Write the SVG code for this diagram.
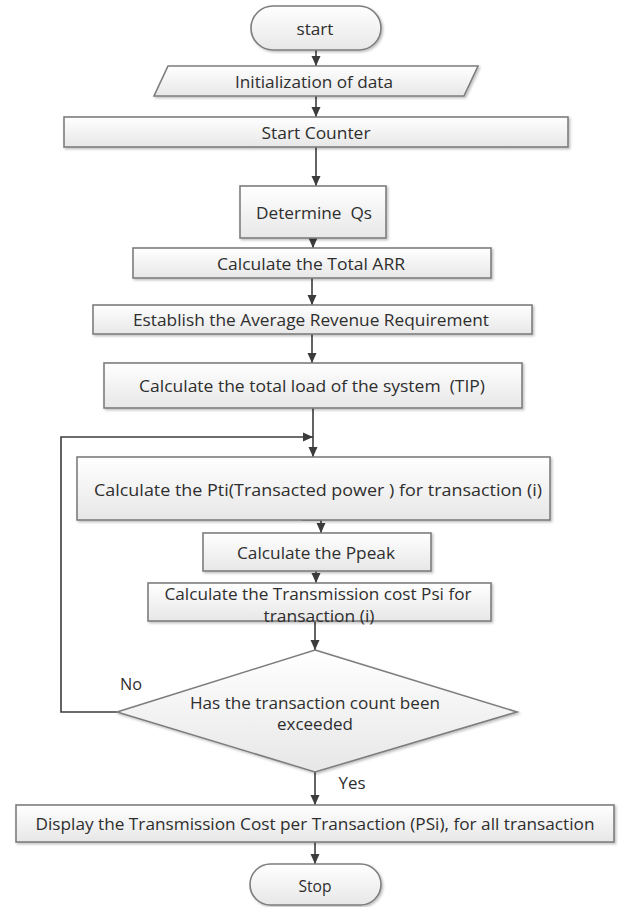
<svg xmlns="http://www.w3.org/2000/svg" width="619" height="907" viewBox="0 0 619 907">
<style>
.box{fill:url(#g);stroke:#7d7d7d;stroke-width:1.6;filter:url(#sh)}
.t{font-family:"Open Sans","Liberation Sans",sans-serif;font-size:16.5px;fill:#2e2e2e;text-anchor:middle;dominant-baseline:central}
.s{font-size:15.5px}
.ca{fill:none;stroke:#3c3c3c;stroke-width:1.6;marker-end:url(#ah)}
</style>
<defs>
<linearGradient id="g" x1="0" y1="0" x2="0" y2="1">
<stop offset="0" stop-color="#ffffff"/>
<stop offset="1" stop-color="#e7e7e7"/>
</linearGradient>
<filter id="sh" x="-5%" y="-20%" width="110%" height="150%">
<feDropShadow dx="1.5" dy="1.5" stdDeviation="1" flood-color="#000" flood-opacity="0.25"/>
</filter>
<marker id="ah" viewBox="0 0 10 10" refX="10" refY="5" markerWidth="10" markerHeight="10" markerUnits="userSpaceOnUse" orient="auto" overflow="visible">
<path d="M0,0.5 L10,5 L0,9.5 Z" fill="#3c3c3c"/>
</marker>
</defs>
<rect width="619" height="907" fill="#ffffff"/>

<g id="connectors">
<line class="ca" x1="316" y1="50" x2="316" y2="66"/>
<line class="ca" x1="316" y1="96" x2="316" y2="117"/>
<line class="ca" x1="316" y1="147" x2="316" y2="186"/>
<line class="ca" x1="313" y1="238" x2="313" y2="248"/>
<line class="ca" x1="312" y1="278" x2="312" y2="305"/>
<line class="ca" x1="312" y1="334" x2="312" y2="363"/>
<line class="ca" x1="313" y1="408" x2="313" y2="457"/>
<polyline class="ca" points="117,712 61,712 61,437 313,437"/>
<polyline class="ca" points="302,520 321,520 321,533"/>
<line class="ca" x1="316" y1="571" x2="316" y2="583"/>
<line class="ca" x1="315" y1="621" x2="315" y2="650"/>
<line class="ca" x1="315" y1="772" x2="315" y2="805"/>
<line class="ca" x1="315" y1="842" x2="315" y2="864"/>
</g>

<g id="start">
<rect class="box" x="251" y="6" width="130" height="44" rx="22"/>
<text class="t" x="315" y="28" textLength="37" lengthAdjust="spacingAndGlyphs">start</text>
</g>
<g id="init">
<polygon class="box" points="168,66 478,66 464,96 154,96"/>
<text class="t" x="314" y="81" textLength="158" lengthAdjust="spacingAndGlyphs">Initialization of data</text>
</g>
<g id="counter">
<rect class="box" x="64" y="117" width="504" height="30"/>
<text class="t" x="316" y="132" textLength="109" lengthAdjust="spacingAndGlyphs">Start Counter</text>
</g>
<g id="qs">
<rect class="box" x="240" y="186" width="146" height="52"/>
<text class="t" x="314" y="212" textLength="116" lengthAdjust="spacingAndGlyphs" xml:space="preserve">Determine  Qs</text>
</g>
<g id="arr">
<rect class="box" x="133" y="248" width="358" height="30"/>
<text class="t" x="311" y="263" textLength="188" lengthAdjust="spacingAndGlyphs">Calculate the Total ARR</text>
</g>
<g id="avg">
<rect class="box" x="93" y="305" width="439" height="29"/>
<text class="t" x="311" y="319" textLength="356" lengthAdjust="spacingAndGlyphs">Establish the Average Revenue Requirement</text>
</g>
<g id="tlp">
<rect class="box" x="104" y="363" width="418" height="45"/>
<text class="t" x="312" y="385" textLength="346" lengthAdjust="spacingAndGlyphs" xml:space="preserve">Calculate the total load of the system  (TIP)</text>
</g>
<g id="pti">
<rect class="box" x="77" y="457" width="473" height="63"/>
<text class="t" x="318" y="489" textLength="448" lengthAdjust="spacingAndGlyphs">Calculate the Pti(Transacted power ) for transaction (i)</text>
</g>
<g id="ppeak">
<rect class="box" x="203" y="533" width="228" height="38"/>
<text class="t" x="316" y="552" textLength="158" lengthAdjust="spacingAndGlyphs">Calculate the Ppeak</text>
</g>
<g id="psi">
<rect class="box" x="148" y="583" width="343" height="38"/>
<text class="t s" x="318" y="594" textLength="307" lengthAdjust="spacingAndGlyphs">Calculate the Transmission cost Psi for</text>
<text class="t s" x="319" y="616" textLength="111" lengthAdjust="spacingAndGlyphs">transaction (i)</text>
</g>
<g id="decision">
<polygon class="box" points="315,650 517,712 315,772 117,712"/>
<text class="t" x="315" y="702" textLength="250" lengthAdjust="spacingAndGlyphs">Has the transaction count been</text>
<text class="t" x="315" y="723" textLength="76" lengthAdjust="spacingAndGlyphs">exceeded</text>
</g>
<g id="labels">
<text class="t" x="131" y="683" textLength="22" lengthAdjust="spacingAndGlyphs">No</text>
<text class="t" x="352" y="782" textLength="27" lengthAdjust="spacingAndGlyphs">Yes</text>
</g>
<g id="display">
<rect class="box" x="16" y="805" width="598" height="37"/>
<text class="t" x="315" y="823" textLength="559" lengthAdjust="spacingAndGlyphs">Display the Transmission Cost per Transaction (PSi), for all transaction</text>
</g>
<g id="stop">
<rect class="box" x="250" y="864" width="131" height="41" rx="20.5"/>
<text class="t" x="315" y="885" textLength="33" lengthAdjust="spacingAndGlyphs">Stop</text>
</g>
</svg>
